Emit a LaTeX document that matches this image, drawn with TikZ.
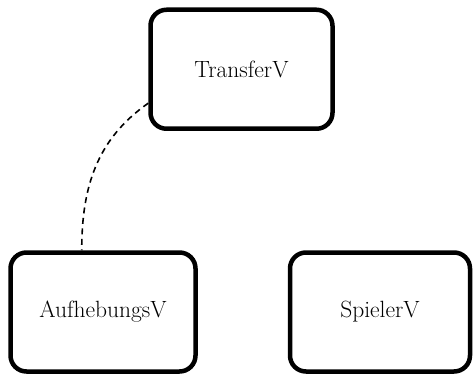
\documentclass[tikz,border=0pt]{standalone}
\usetikzlibrary{calc}
\begin{document}
\begin{tikzpicture}[x=1pt,y=1pt,
  box/.style={draw=black, line width=4.5pt, rounded corners=16pt, fill=white,
    minimum width=182pt, minimum height=119pt, inner sep=0pt, font=\fontsize{23.5}{27}\selectfont},
  link/.style={line width=1.6pt, dash pattern=on 6pt off 4.5pt}]
\useasboundingbox (0,0) rectangle (473,375);
\node[box] (T) at (241.5,305.75) {TransferV};
\node[box, minimum width=185pt] (A) at (103,63) {AufhebungsV};
\node[box, minimum width=180pt] (S) at (380,63) {SpielerV};
\draw[link] (T.200) to[out=215,in=90] (A.109);
\end{tikzpicture}
\end{document}
